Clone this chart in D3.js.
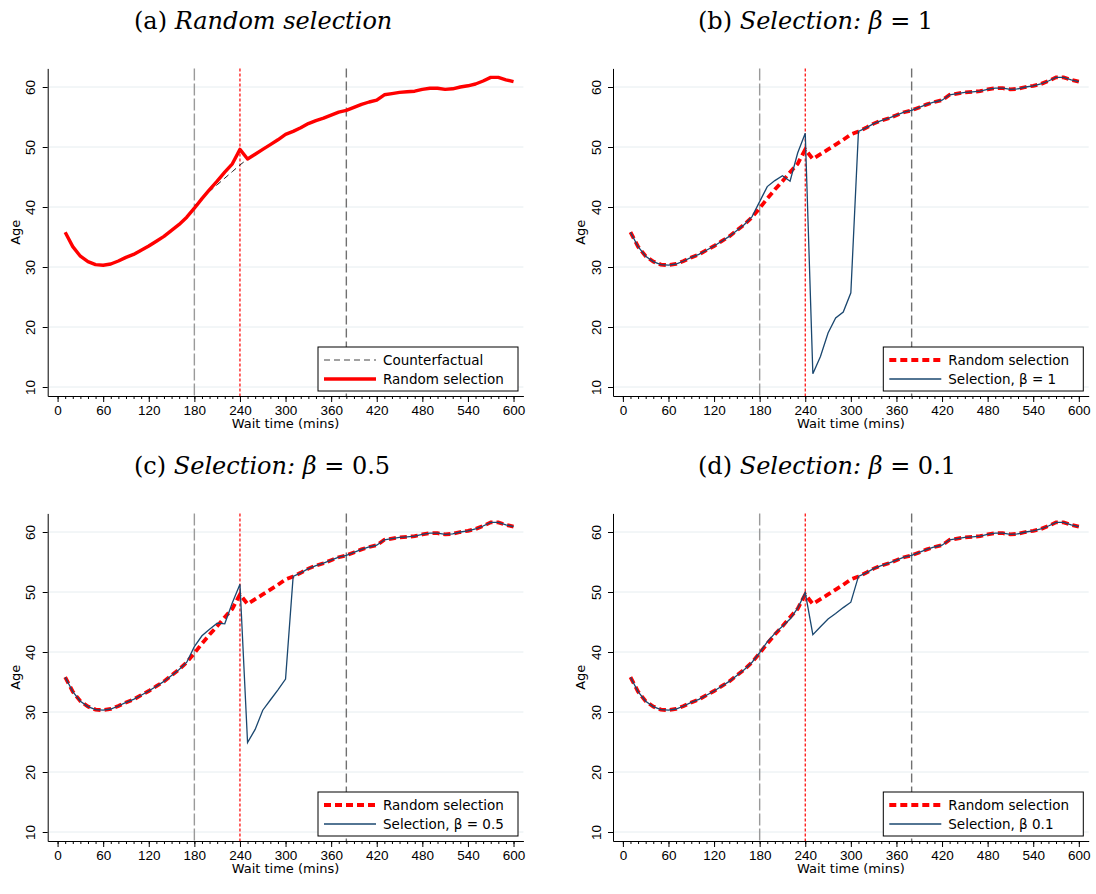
<!DOCTYPE html>
<meta charset="utf-8">
<style>
body { margin: 0; background: #fff; }
svg { font-family: "DejaVu Sans", sans-serif; }
.grid line { stroke: #e6edf0; stroke-width: 1; }
.axis path, .axis line { stroke: #000; stroke-width: 1; }
.axis text { font-size: 13.5px; fill: #000; }
.title { font-family: "DejaVu Serif", serif; font-size: 24px; fill: #000; }
.legend text { font-size: 13.5px; fill: #000; }
</style>
<body><div id="chart"></div></body>
<script src="https://d3js.org/d3.v7.min.js"></script>
<script>
// wait time (mins), one point every 10 minutes
var waitTime = [10,20,30,40,50,60,70,80,90,100,110,120,130,140,150,160,170,180,190,200,
  210,220,230,240,250,260,270,280,290,300,310,320,330,340,350,360,370,380,390,400,
  410,420,430,440,450,460,470,480,490,500,510,520,530,540,550,560,570,580,590,600];

// random selection (mean age)
var randomAge = [35.8,33.4,31.8,30.9,30.4,30.3,30.5,31.0,31.6,32.1,32.8,33.5,34.3,35.1,36.1,37.1,38.3,39.8,41.4,42.9,
  44.3,45.8,47.2,49.6,48.0,48.8,49.6,50.4,51.2,52.1,52.6,53.2,53.9,54.4,54.8,55.3,55.8,56.1,56.6,57.1,
  57.5,57.8,58.7,58.9,59.1,59.2,59.3,59.6,59.8,59.8,59.6,59.7,60.0,60.2,60.5,61.0,61.6,61.6,61.2,60.9];

// selection, beta = 1
var sel1Age = [35.8,33.4,31.8,30.9,30.4,30.3,30.5,31.0,31.6,32.1,32.8,33.5,34.3,35.1,36.1,37.1,38.4,40.9,43.4,44.4,
  45.2,44.3,49.0,52.3,12.2,15.1,19.0,21.5,22.5,25.7,52.6,53.2,53.9,54.4,54.8,55.3,55.8,56.1,56.6,57.1,
  57.5,57.8,58.7,58.9,59.1,59.2,59.3,59.6,59.8,59.8,59.6,59.7,60.0,60.2,60.5,61.0,61.6,61.6,61.2,60.9];

// selection, beta = 0.5
var sel05Age = [35.8,33.4,31.8,30.9,30.4,30.3,30.5,31.0,31.6,32.1,32.8,33.5,34.3,35.1,36.1,37.1,38.3,40.9,42.7,43.8,
  44.8,44.7,48.2,51.3,24.9,27.1,30.3,32.0,33.7,35.5,52.6,53.2,53.9,54.4,54.8,55.3,55.8,56.1,56.6,57.1,
  57.5,57.8,58.7,58.9,59.1,59.2,59.3,59.6,59.8,59.8,59.6,59.7,60.0,60.2,60.5,61.0,61.6,61.6,61.2,60.9];

// selection, beta = 0.1
var sel01Age = [35.8,33.4,31.8,30.9,30.4,30.3,30.5,31.0,31.6,32.1,32.8,33.5,34.3,35.1,36.1,37.1,38.3,39.9,41.7,43.1,
  44.3,45.5,47.3,49.9,42.9,44.2,45.5,46.4,47.4,48.3,52.6,53.2,53.9,54.4,54.8,55.3,55.8,56.1,56.6,57.1,
  57.5,57.8,58.7,58.9,59.1,59.2,59.3,59.6,59.8,59.8,59.6,59.7,60.0,60.2,60.5,61.0,61.6,61.6,61.2,60.9];

// counterfactual (panel a only)
var cfTime = [180,190,200,210,220,230,240,250];
var cfAge = [40.2,41.4,42.6,43.7,44.8,45.9,47.0,48.0];

var xTicks = [0,60,120,180,240,300,360,420,480,540,600];
var xMinorTicks = d3.range(0, 601, 10);
var yTicks = [10,20,30,40,50,60];
var refLines = [180, 240, 380];

var panelLabels = ["(a) ", "(b) ", "(c) ", "(d) "];
var panelNames = ["Random selection", "Selection:", "Selection:", "Selection:"];
var panelBetas = [null, "1", "0.5", "0.1"];
var selLabels = [null, "Selection, \u03b2 = 1", "Selection, \u03b2 = 0.5", "Selection, \u03b2  0.1"];
var selSeries = [null, sel1Age, sel05Age, sel01Age];

var W = 1096, H = 894;
var svg = d3.select("#chart").append("svg")
    .attr("width", W).attr("height", H);

var panelDx = 565.3, panelDy = 445;

var x = d3.scaleLinear().domain([-13, 613]).range([47.7, 523.4]);
var y = d3.scaleLinear().domain([8.5, 63.1]).range([396, 68.4]);

var line = d3.line()
    .x(function(d) { return x(d[0]); })
    .y(function(d) { return y(d[1]); });

function drawPanel(i) {
    var g = svg.append("g")
        .attr("transform", "translate(" + ((i % 2) * panelDx) + "," + (Math.floor(i / 2) * panelDy) + ")");

    // title (left aligned like the subcaptions)
    var t = g.append("text").attr("class", "title")
        .attr("x", i % 2 ? 698 - panelDx : 134).attr("y", 29);
    t.append("tspan").text(panelLabels[i]);
    t.append("tspan").attr("font-style", "italic").text(panelNames[i]);
    if (panelBetas[i] !== null) {
        t.append("tspan").text(" ");
        t.append("tspan").attr("font-style", "italic").text("\u03b2");
        t.append("tspan").text(" = " + panelBetas[i]);
    }

    // grid
    g.append("g").attr("class", "grid")
      .selectAll("line").data(yTicks).enter().append("line")
        .attr("x1", x.range()[0]).attr("x2", x.range()[1])
        .attr("y1", function(d) { return y(d); })
        .attr("y2", function(d) { return y(d); });

    // reference lines
    g.selectAll(".ref").data(refLines).enter().append("line")
        .attr("class", "ref")
        .attr("x1", function(d) { return x(d); })
        .attr("x2", function(d) { return x(d); })
        .attr("y1", y.range()[1]).attr("y2", y.range()[0])
        .attr("stroke", function(d) { return d === 240 ? "#ff0000" : (d === 180 ? "#9a9a9a" : "#707070"); })
        .attr("stroke-width", function(d) { return d === 240 ? 1.2 : 1.4; })
        .attr("stroke-dasharray", function(d) { return d === 240 ? "3,2" : (d === 180 ? "12,3" : "9,4"); });

    var randomPts = d3.zip(waitTime, randomAge);

    if (i === 0) {
        g.append("path").datum(d3.zip(cfTime, cfAge))
            .attr("d", line).attr("fill", "none")
            .attr("stroke", "#222").attr("stroke-width", 1)
            .attr("stroke-dasharray", "6,4");
        g.append("path").datum(randomPts)
            .attr("d", line).attr("fill", "none")
            .attr("stroke", "#ff0000").attr("stroke-width", 3.4)
            .attr("stroke-linejoin", "round");
    } else {
        g.append("path").datum(randomPts)
            .attr("d", line).attr("fill", "none")
            .attr("stroke", "#ff0000").attr("stroke-width", 3.8)
            .attr("stroke-dasharray", "7,4");
        g.append("path").datum(d3.zip(waitTime, selSeries[i]))
            .attr("d", line).attr("fill", "none")
            .attr("stroke", "#1a476f").attr("stroke-width", 1.3);
    }

    // axes
    g.append("g").attr("class", "axis")
        .attr("transform", "translate(0," + y.range()[0] + ")")
        .call(d3.axisBottom(x).tickValues(xTicks).tickSize(6).tickSizeOuter(0).tickPadding(3));
    g.append("g").attr("class", "axis")
        .attr("transform", "translate(0," + y.range()[0] + ")")
        .call(d3.axisBottom(x).tickValues(xMinorTicks).tickSize(3).tickSizeOuter(0).tickFormat(""))
        .select(".domain").remove();

    var yAxis = g.append("g").attr("class", "axis")
        .attr("transform", "translate(" + x.range()[0] + ",0)")
        .call(d3.axisLeft(y).tickValues(yTicks).tickSize(5).tickSizeOuter(0));
    yAxis.selectAll(".tick text")
        .attr("x", 0).attr("dy", 0)
        .attr("text-anchor", "middle")
        .attr("transform", "translate(-12.5,0) rotate(-90)");

    g.append("text").attr("x", (x.range()[0] + x.range()[1]) / 2).attr("y", 428)
        .attr("text-anchor", "middle").attr("font-size", "13px").text("Wait time (mins)");
    g.append("text").attr("transform", "translate(19.5," + ((y.range()[0] + y.range()[1]) / 2) + ") rotate(-90)")
        .attr("text-anchor", "middle").attr("font-size", "13px").text("Age");

    // legend
    var lg = g.append("g").attr("class", "legend");
    lg.append("rect").attr("x", 318).attr("y", 347).attr("width", 200).attr("height", 44)
        .attr("fill", "#fff").attr("stroke", "#000").attr("stroke-width", 1);
    var items;
    if (i === 0) {
        items = [
            {label: "Counterfactual", stroke: "#444", w: 1.2, dash: "6,4"},
            {label: "Random selection", stroke: "#ff0000", w: 3.4, dash: null}
        ];
    } else {
        items = [
            {label: "Random selection", stroke: "#ff0000", w: 3.8, dash: "7,4"},
            {label: selLabels[i], stroke: "#1a476f", w: 1.3, dash: null}
        ];
    }
    items.forEach(function(it, k) {
        var yy = 360 + k * 19;
        lg.append("line").attr("x1", 324).attr("x2", 376).attr("y1", yy).attr("y2", yy)
            .attr("stroke", it.stroke).attr("stroke-width", it.w)
            .attr("stroke-dasharray", it.dash);
        lg.append("text").attr("x", 383).attr("y", yy).attr("dy", "0.35em").text(it.label);
    });
}

for (var p = 0; p < 4; p++) drawPanel(p);
</script>
